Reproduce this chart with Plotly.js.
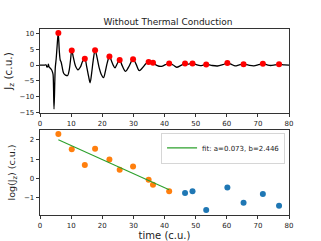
<!DOCTYPE html>
<html>
<head>
<meta charset="utf-8">
<script src="https://cdn.plot.ly/plotly-3.0.1.min.js"></script>
<style>html,body{margin:0;padding:0;background:#fff;}#chart{width:321px;height:241px;}</style>
</head>
<body>
<div id="chart"></div>
<script>
// Black current curve (top panel)
const curveT = [0,1.5,2.0,2.2,2.5,2.7,2.9,3.3,3.7,4.0,4.2,4.5,4.9,5.2,5.5,5.85,6.2,6.5,6.8,7.1,7.6,8.2,8.9,9.4,9.8,10.2,10.7,11.4,12.2,13.0,13.7,14.4,15.0,15.6,16.1,16.6,17.1,17.7,18.3,19.0,19.7,20.4,21.0,21.6,22.3,23.0,23.6,24.1,24.8,25.6,26.4,27.5,28.5,29.9,30.9,31.9,33.0,34.0,34.9,35.6,36.3,37.5,39.0,40.3,41.5,42.8,43.9,45.3,46.6,47.8,49.0,50.2,51.5,53.4,55.0,57.0,58.7,60.2,61.5,62.7,64.0,65.4,67.0,68.7,70.2,71.6,73.0,74.1,75.5,76.8,78.5,80];
const curveJ = [0,0,0,-0.6,-0.5,0.3,-0.6,-1.0,-1.5,-2.2,-3.0,-13.9,-1.0,2.0,6.0,10.2,4.5,1.6,0.9,-0.5,-2.6,-3.2,-3.3,-1.5,1.5,4.57,2.5,-0.3,-1.5,-0.6,1.2,2.0,-0.5,-3.5,-5.6,-2.5,1.5,4.7,2.5,-0.8,-3.0,-4.0,-2.0,0.7,2.7,1.2,-0.2,-0.9,0.4,1.6,-0.2,-2.0,-0.6,1.9,0.2,-1.8,-0.8,0.4,0.95,0.8,0.72,-0.1,-0.45,0.1,0.52,0.0,-0.7,-0.1,0.47,0.3,0.52,0.1,-0.2,0.19,-0.1,-0.3,0.1,0.63,0.2,-0.25,0.05,0.28,-0.05,-0.25,0.1,0.44,0.05,-0.15,0.05,0.24,0.05,0.0];

// Peaks (red markers, top panel)
const peakT = [5.9,10.2,14.4,17.7,22.3,25.6,29.9,34.9,36.3,41.5,46.6,49.0,53.4,60.2,65.4,71.6,76.8];
const peakJ = [10.1,4.57,2.01,4.71,2.66,1.57,1.86,0.93,0.72,0.52,0.47,0.52,0.19,0.63,0.28,0.44,0.24];

// log(Jz) of peaks (bottom panel)
const fitPeakT = [5.9,10.2,14.4,17.7,22.3,25.6,29.9,34.9,36.3,41.5];
const fitPeakLog = [2.31,1.52,0.70,1.55,0.98,0.45,0.62,-0.07,-0.33,-0.66];
const restPeakT = [46.6,49.0,53.4,60.2,65.4,71.6,76.8];
const restPeakLog = [-0.76,-0.66,-1.64,-0.47,-1.26,-0.81,-1.42];

// Fit parameters
const fitA = 0.073, fitB = 2.446;
const fitT = [fitPeakT[0], fitPeakT[fitPeakT.length-1]];
const fitY = fitT.map(t => -fitA*t + fitB);

const xTicks = [0,10,20,30,40,50,60,70,80];
const yTicksTop = [-15,-10,-5,0,5,10];
const yTicksBot = [-1,0,1,2];

const FONT = 'DejaVu Sans, sans-serif';

const traces = [
  {x: curveT, y: curveJ, type:'scatter', mode:'lines', xaxis:'x', yaxis:'y',
   line:{color:'#000', width:1.3, shape:'spline', smoothing:0.9}, showlegend:false, hoverinfo:'skip'},
  {x: peakT, y: peakJ, type:'scatter', mode:'markers', xaxis:'x', yaxis:'y',
   marker:{color:'#ff0000', size:6}, showlegend:false},
  {x: fitPeakT, y: fitPeakLog, type:'scatter', mode:'markers', xaxis:'x2', yaxis:'y2',
   marker:{color:'#ff7f0e', size:6}, showlegend:false},
  {x: restPeakT, y: restPeakLog, type:'scatter', mode:'markers', xaxis:'x2', yaxis:'y2',
   marker:{color:'#1f77b4', size:6}, showlegend:false},
  {x: fitT, y: fitY, type:'scatter', mode:'lines', xaxis:'x2', yaxis:'y2',
   line:{color:'#2ca02c', width:1.1}, name:'fit: a=' + fitA.toFixed(3) + ', b=' + fitB.toFixed(3), showlegend:true}
];

const axBase = {
  showgrid:false, zeroline:false, showline:true, mirror:true,
  linecolor:'#000', linewidth:0.8, ticks:'outside', ticklen:3.5, tickwidth:0.8, tickcolor:'#000',
  tickfont:{family:FONT, size:7, color:'#222'}
};

const layout = {
  width:321, height:241,
  margin:{l:40, r:32, t:29, b:26},
  paper_bgcolor:'#fff', plot_bgcolor:'#fff',
  font:{family:FONT, color:'#222'},
  title:{text:'Without Thermal Conduction', font:{family:FONT, size:9, color:'#222'},
         x:0.514, xanchor:'center', y:0.91, yanchor:'middle', xref:'paper'},
  xaxis: Object.assign({}, axBase, {domain:[0,1], anchor:'y', range:[0,80], tickvals:xTicks, ticktext:xTicks.map(String)}),
  yaxis: Object.assign({}, axBase, {domain:[0.548,1], anchor:'x', range:[-15.2,11.4], tickvals:yTicksTop,
         ticktext:yTicksTop.map(v => v<0 ? '\u2212'+Math.abs(v) : String(v)),
         title:{text:'J<sub>z</sub> (c.u.)', font:{family:FONT, size:10.5, color:'#222'}, standoff:4}}),
  xaxis2: Object.assign({}, axBase, {domain:[0,1], anchor:'y2', range:[0,80], tickvals:xTicks, ticktext:xTicks.map(String),
         title:{text:'time (c.u.)', font:{family:FONT, size:10, color:'#222'}, standoff:2}}),
  yaxis2: Object.assign({}, axBase, {domain:[0,0.457], anchor:'x2', range:[-1.9,2.52], tickvals:yTicksBot,
         ticktext:yTicksBot.map(v => v<0 ? '\u2212'+Math.abs(v) : String(v)),
         title:{text:'log(J<sub>z</sub>) (c.u.)', font:{family:FONT, size:9.5, color:'#222'}, standoff:6}}),
  legend:{x:0.985, y:0.443, xanchor:'right', yanchor:'top', xref:'paper', yref:'paper',
          bgcolor:'rgba(255,255,255,0.8)', bordercolor:'#ccc', borderwidth:0.8,
          font:{family:FONT, size:7, color:'#222'}, itemwidth:30, tracegroupgap:0},
  showlegend:true
};

Plotly.newPlot('chart', traces, layout, {staticPlot:true, displayModeBar:false});
</script>
</body>
</html>
